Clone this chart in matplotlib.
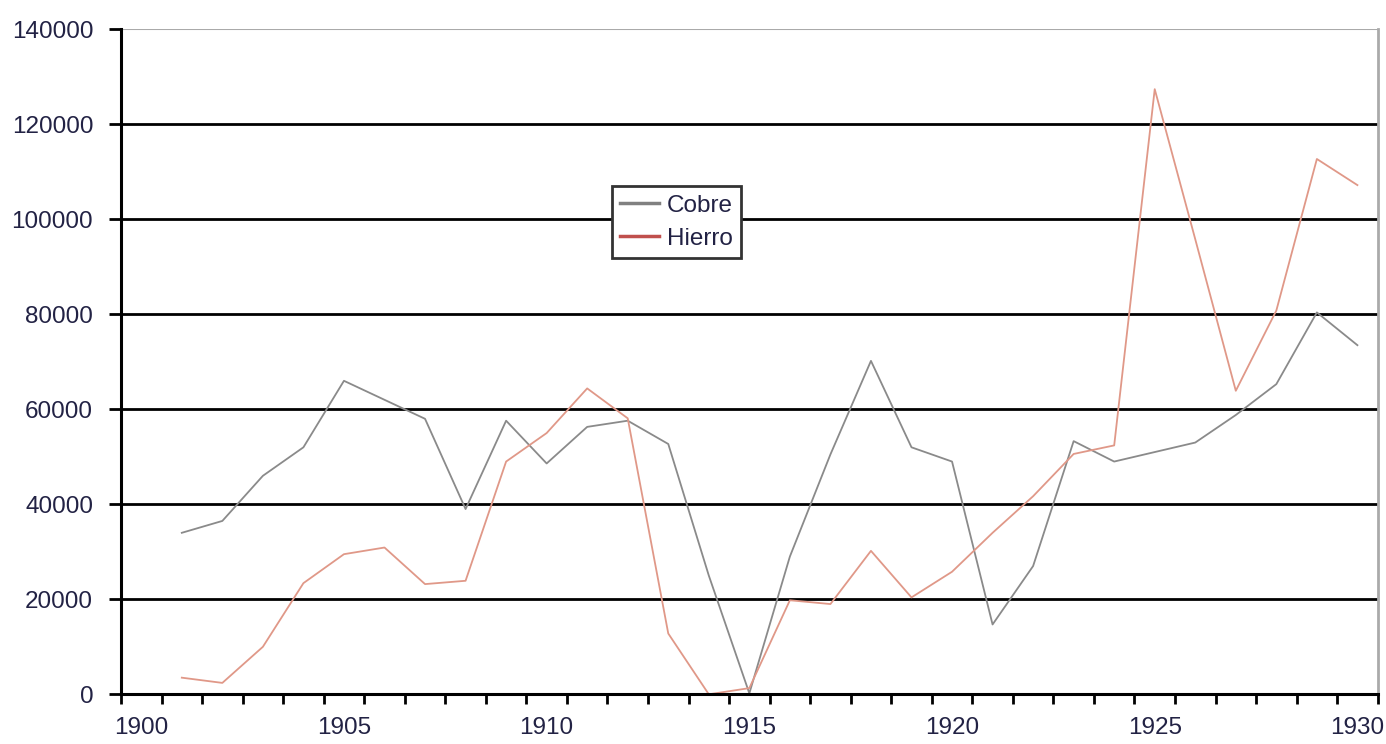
import matplotlib
matplotlib.use('Agg')
import matplotlib.pyplot as plt
from matplotlib.ticker import MultipleLocator, FixedLocator
import numpy as np

# Production by year (1901-1930)
years = list(range(1901, 1931))
cobre = [34000, 36500, 46000, 52000, 66000, 62000, 58000, 39000, 57600, 48600,
         56300, 57600, 52700, 25000, 200, 29000, 50500, 70200, 52000, 49000,
         14700, 27000, 53300, 49000, 51000, 53000, 58800, 65300, 80400, 73500]
hierro = [3500, 2400, 10000, 23400, 29500, 30900, 23200, 23900, 49000, 55000,
          64400, 58100, 12800, 0, 1300, 19800, 19000, 30200, 20400, 25800,
          34000, 41700, 50600, 52400, 127400, 95800, 63900, 80800, 112700, 107200]

plt.rcParams['font.family'] = ['Liberation Sans', 'DejaVu Sans']

fig = plt.figure(figsize=(13.86, 7.44), dpi=100)
ax = fig.add_axes([0.0873, 0.0668, 0.9067, 0.8938])

ax.plot(years, cobre, color='#8a8a8a', lw=1.3, label='Cobre')
ax.plot(years, hierro, color='#e09888', lw=1.3, label='Hierro')

ax.set_xlim(1899.5, 1930.5)
ax.set_ylim(0, 140000)

# year labels every 5, tick marks between categories
ax.xaxis.set_major_locator(FixedLocator(list(range(1900, 1931, 5))))
ax.xaxis.set_minor_locator(FixedLocator([y + 0.5 for y in range(1899, 1931)]))
ax.tick_params(axis='x', which='major', length=0, pad=16, labelsize=17.5, labelcolor='#222244')
ax.tick_params(axis='x', which='minor', length=7, width=2, direction='out')
ax.yaxis.set_major_locator(MultipleLocator(20000))
ax.tick_params(axis='y', which='major', length=9, width=2, direction='out', pad=11,
               labelsize=17.5, labelcolor='#222244')

for v in range(20000, 140000, 20000):
    ax.axhline(v, color='black', lw=2, zorder=1)
ax.axhline(140000, color='#aaaaaa', lw=1.5, zorder=1)

for s in ['left', 'bottom']:
    ax.spines[s].set_linewidth(2.2)
ax.spines['top'].set_visible(False)
ax.spines['right'].set_color('#aaaaaa')
ax.spines['right'].set_linewidth(2)

leg = ax.legend(loc='upper left', bbox_to_anchor=(0.3906, 0.764), fontsize=17.5,
                frameon=True, fancybox=False, handlelength=1.6, handletextpad=0.3,
                borderpad=0.35, labelspacing=0.45, framealpha=1, borderaxespad=0)
leg.get_frame().set_edgecolor('#333333')
leg.get_frame().set_linewidth(2)
for text in leg.get_texts():
    text.set_color('#222244')
leg.get_lines()[0].set_color('#808080')
leg.get_lines()[1].set_color('#c0504d')
for line in leg.get_lines():
    line.set_linewidth(2.5)

fig.savefig('out.png', dpi=100)
